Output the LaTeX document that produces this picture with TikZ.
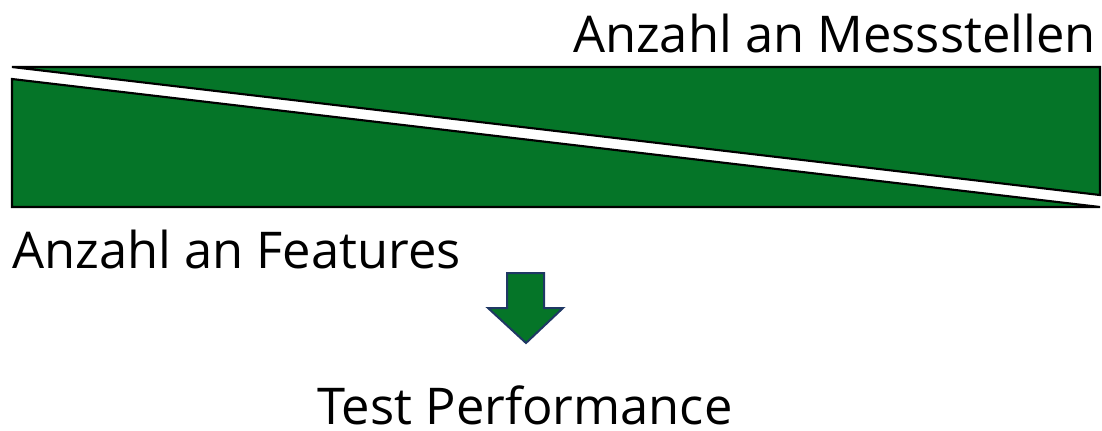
\documentclass[tikz,border=0pt]{standalone}
\usepackage{fontspec}
\setmainfont{Open Sans}
\usepackage{tikz}
\usetikzlibrary{positioning}
\definecolor{keilgruen}{HTML}{057528}
\definecolor{pfeilrand}{HTML}{1F3864}

\begin{document}
\begin{tikzpicture}[x=0.75pt, y=-0.75pt]
  \useasboundingbox (0,0) rectangle (1102,430);
  \tikzset{
    keil/.style={fill=keilgruen, draw=black, line width=1.6pt, line join=miter},
    beschriftung/.style={font=\fontsize{38}{44}\selectfont, inner sep=0pt},
  }
  %% Zwei Keile: Messstellen oben, Features unten
  \filldraw[keil] (12,67) -- (1100,67) -- (1100,195) -- cycle;
  \filldraw[keil] (12,79) -- (12,207) -- (1100,207) -- cycle;

  % Beschriftungen
  \node[beschriftung, anchor=base east] (messstellen) at (1096,52) {Anzahl an Messstellen};
  \node[beschriftung, anchor=base west] (features) at (12,268) {Anzahl an Features};
  \node[beschriftung, anchor=base, text depth=0pt] (performance) at (525,424) {Test Performance};

  % Pfeil nach unten
  \filldraw[fill=keilgruen, draw=pfeilrand, line width=1.5pt, line join=miter]
    (507,273) -- (544,273) -- (544,308) -- (563,308) -- (526,343)
    -- (488,308) -- (507,308) -- cycle;
\end{tikzpicture}
\end{document}
